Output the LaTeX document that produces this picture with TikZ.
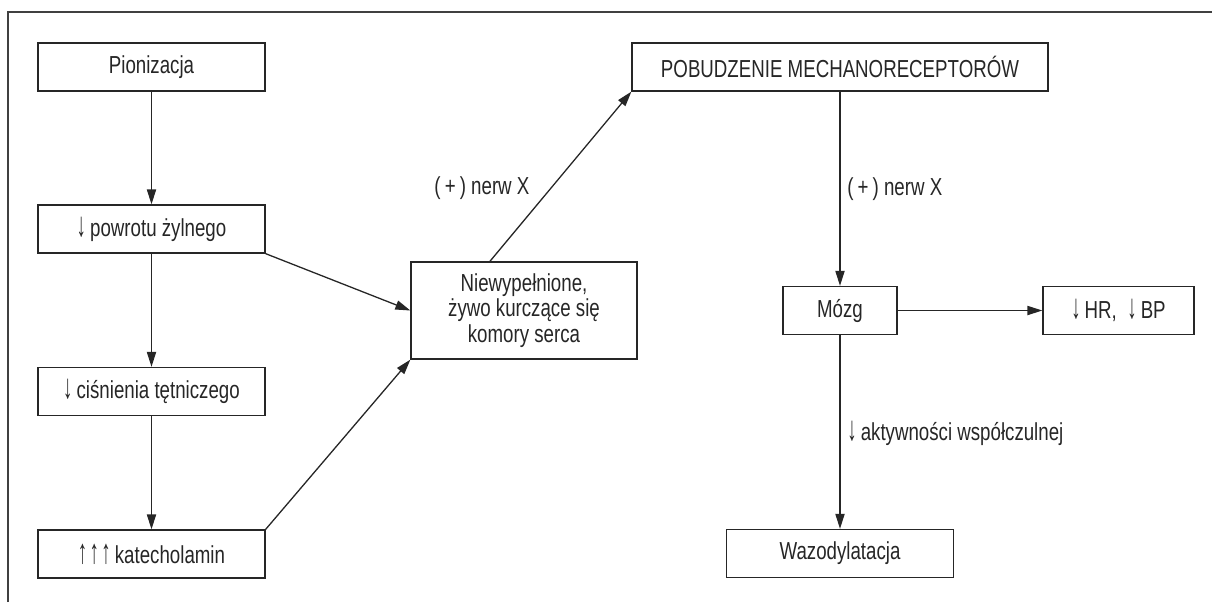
\documentclass[tikz,border=0pt]{standalone}
\usepackage{fontspec}
\usepackage{graphicx}
\setmainfont{Liberation Sans}[FakeStretch=0.76]
\usetikzlibrary{arrows.meta,calc}

\newcommand{\arrdown}{\scalebox{1}[1.4]{↓}}
\newcommand{\arrup}{\scalebox{1}[1.4]{↑}}

\begin{document}
\begin{tikzpicture}[
    x = 0.5pt, y = -0.5pt,
    line width = 0.65pt,
    every node/.style = {font = \fontsize{12.3}{12.8}\selectfont, text = black!85},
    box/.style = {draw = black!85, minimum width = 113.5pt, minimum height = 24pt,
                  inner sep = 0pt, align = center},
    link/.style = {draw = black!85, -{Triangle[length = 7.5pt, width = 4.6pt]}},
  ]
  \useasboundingbox (0,0) rectangle (1212,602);
  \draw [black!75, line width = 0.75pt] (8,602) -- (8,12) -- (1212,12);

  % left column
  \foreach \i/\y/\txt in {1/67/Pionizacja, 2/229/\arrdown\,powrotu żylnego,
                          3/391.5/\arrdown\,ciśnienia tętniczego,
                          4/554/\arrup\kern1.2pt\arrup\kern1.2pt\arrup\,katecholamin} {
    \node [box] (left box \i) at (151.5,\y) {\txt};
  }
  \foreach \i/\j in {1/2, 2/3, 3/4} {
    \draw [link] (left box \i) -- (left box \j);
  }

  \node [box, minimum width = 113pt, minimum height = 48.5pt] (komory) at (524,310.5)
        {Niewypełnione,\\żywo kurczące się\\komory serca};
  \node [box, minimum width = 208pt] (pobudzenie) at (840,67) {POBUDZENIE MECHANORECEPTORÓW};
  \node [box, minimum width = 57pt] (mozg) at (840,310.5) {Mózg};
  \node [box, minimum width = 75.5pt] (hr bp) at (1118.5,310.5) {\arrdown\,HR,\ \ \arrdown\,BP};
  \node [box] (wazo) at (840,553.5) {Wazodylatacja};

  \draw [link] (left box 2.south east) -- (komory.west);
  \draw [link] (left box 4.north east) -- (komory.south west);
  \draw [link] ($(komory.north west)!0.35!(komory.north east)$)
        -- node [pos = 0.43, left = 7pt] (nerw left) {(\,+\,) nerw X} (pobudzenie.south west);
  \draw [link] (pobudzenie) -- node [pos = 0.5, right] (nerw right) {(\,+\,) nerw X} (mozg);
  \draw [link] (mozg) -- (hr bp);
  \draw [link] (mozg) -- node [pos = 0.505, right] (aktywnosc) {\arrdown\,aktywności współczulnej} (wazo);
\end{tikzpicture}
\end{document}
